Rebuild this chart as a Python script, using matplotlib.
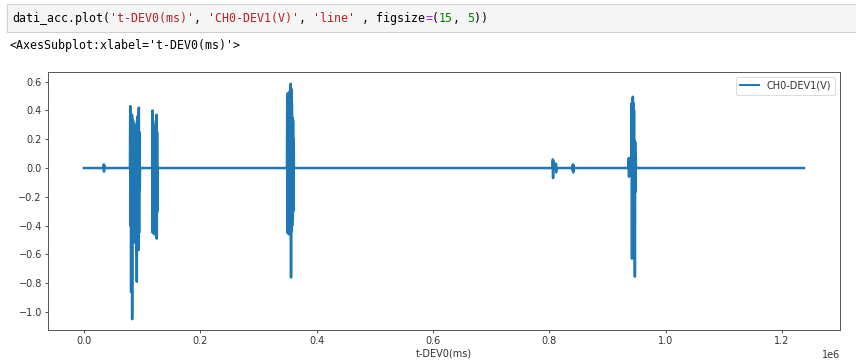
import matplotlib
matplotlib.use("Agg")
import matplotlib.pyplot as plt
import numpy as np

# ---------------- data (t in ms, V in volts) ----------------
baseline_t = [0, 1238000]
baseline_v = [0.0, 0.0]

blip1_t = [33800, 34100, 34400, 34700, 35000]
blip1_v = [0.0, 0.025, -0.025, 0.02, 0.0]

burstA_t = [79000, 79500, 80000, 80500, 81000, 81500, 82000, 82500, 82800, 83300,
            83800, 84300, 84800, 85300, 85800, 86300, 86800, 87300, 87800, 88300,
            88800, 89300, 89800, 90300, 90800, 91300, 91800, 92300, 92800, 93300,
            93800, 94300, 94800, 95300, 95800, 96400]
burstA_v = [0.0, 0.43, -0.40, 0.38, -0.86, 0.35, -0.50, 0.37, -1.05, 0.34,
            -0.48, 0.33, -0.52, 0.31, -0.47, 0.30, -0.50, 0.28, -0.45, 0.25,
            -0.52, 0.30, -0.58, 0.27, -0.79, 0.33, -0.50, 0.36, -0.55, 0.38,
            -0.57, 0.42, -0.45, 0.25, -0.15, 0.0]

burstB_t = [117200, 117700, 118200, 118700, 119200, 119700, 120200, 120700, 121200,
            121700, 122200, 122700, 123200, 123700, 124200, 124700, 125200, 125700,
            126200, 126700]
burstB_v = [0.0, 0.40, -0.45, 0.33, -0.44, 0.30, -0.45, 0.28, -0.46,
            0.26, -0.45, 0.27, -0.46, 0.30, -0.48, 0.37, -0.49, 0.25,
            -0.30, 0.0]

burstC_t = [349000, 349500, 350000, 350500, 351000, 351500, 352000, 352500, 353000,
            353500, 354000, 354500, 355000, 355500, 356000, 356500, 357000, 357500,
            358000, 358500, 359000, 359500, 360000, 360500, 361000]
burstC_v = [0.0, 0.50, -0.45, 0.52, -0.44, 0.50, -0.46, 0.51, -0.45,
            0.53, -0.44, 0.52, -0.46, 0.585, -0.76, 0.55, -0.44, 0.45,
            -0.40, 0.35, -0.36, 0.33, -0.30, 0.20, 0.0]

blip2_t = [805800, 806200, 806600, 807000, 807400]
blip2_v = [0.0, 0.06, -0.07, 0.05, 0.0]

blip3_t = [811300, 811600, 811900, 812200]
blip3_v = [0.0, 0.03, -0.03, 0.0]

blip4_t = [839200, 839800, 840400, 840800, 841200, 841600, 842000, 842600]
blip4_v = [0.0, 0.01, -0.015, 0.025, -0.03, 0.02, -0.015, 0.0]

blip5_t = [936400, 936800, 937200, 937600, 938000]
blip5_v = [0.0, 0.07, -0.06, 0.06, 0.0]

burstD_t = [941300, 941800, 942300, 942800, 943300, 943800, 944300, 944800, 945300,
            945800, 946300, 946800, 947300, 947800, 948300, 948800, 949200]
burstD_v = [0.0, 0.45, -0.63, 0.48, -0.60, 0.495, -0.58, 0.45, -0.55,
            0.40, -0.50, 0.19, -0.755, 0.18, -0.165, 0.10, 0.0]

series_t = [baseline_t[0]] + blip1_t + burstA_t + burstB_t + burstC_t + blip2_t + \
    blip3_t + blip4_t + blip5_t + burstD_t + [baseline_t[1]]
series_v = [baseline_v[0]] + blip1_v + burstA_v + burstB_v + burstC_v + blip2_v + \
    blip3_v + blip4_v + blip5_v + burstD_v + [baseline_v[1]]

x_label = "t-DEV0(ms)"
legend_label = "CH0-DEV1(V)"

# ---------------- figure ----------------
W, H, DPI = 856, 364, 100
fig = plt.figure(figsize=(W / DPI, H / DPI), dpi=DPI)
fig.patch.set_facecolor("white")

# notebook code cell
cell = matplotlib.patches.Rectangle((7 / W, 1 - 32 / H), 1.0, 28 / H,
                                    transform=fig.transFigure, facecolor="#f5f5f5",
                                    edgecolor="#cfcfcf", linewidth=0.8, zorder=0)
fig.patches.append(cell)

mono = "DejaVu Sans Mono"
fs_mono = 8.4
char_w = 7.0
segments = [
    ("dati_acc.plot(", "#000000"),
    ("'t-DEV0(ms)'", "#ba2121"),
    (", ", "#000000"),
    ("'CH0-DEV1(V)'", "#ba2121"),
    (", ", "#000000"),
    ("'line'", "#ba2121"),
    (" , figsize", "#000000"),
    ("=", "#aa22ff"),
    ("(", "#000000"),
    ("15", "#008000"),
    (", ", "#000000"),
    ("5", "#008000"),
    ("))", "#000000"),
]
x0 = 12.0
for txt, col in segments:
    fig.text(x0 / W, 1 - 18.5 / H, txt, family=mono, size=fs_mono, color=col,
             ha="left", va="center")
    x0 += char_w * len(txt)

fig.text(10 / W, 1 - 46 / H, "<AxesSubplot:xlabel='t-DEV0(ms)'>", family=mono,
         size=fs_mono, color="#000000", ha="left", va="center")

# axes
ax = fig.add_axes([48 / W, (H - 330) / H, 792 / W, 258 / H])
ax.plot(series_t, series_v, color="#1f77b4", linewidth=1.8, label=legend_label)
ax.set_xlim(-61900, 1300000)
ax.set_ylim(-1.125, 0.667)
ax.set_xticks([0, 200000, 400000, 600000, 800000, 1000000, 1200000])
ax.set_yticks([-1.0, -0.8, -0.6, -0.4, -0.2, 0.0, 0.2, 0.4, 0.6])
ax.set_xlabel(x_label, fontsize=7, color="#333333", labelpad=2)
ax.tick_params(labelsize=7, colors="#333333", length=2.4, width=0.6, pad=2)
ax.xaxis.get_offset_text().set_fontsize(7)
ax.xaxis.get_offset_text().set_color("#333333")
for s in ax.spines.values():
    s.set_linewidth(0.7)
    s.set_color("#555555")
leg = ax.legend(loc="upper right", fontsize=7, frameon=True, handlelength=2.0,
                borderpad=0.4)
leg.get_frame().set_edgecolor("#cccccc")
leg.get_frame().set_linewidth(0.6)
for line in leg.get_lines():
    line.set_linewidth(1.4)
for t in leg.get_texts():
    t.set_color("#333333")

fig.savefig("out.png", dpi=DPI)
